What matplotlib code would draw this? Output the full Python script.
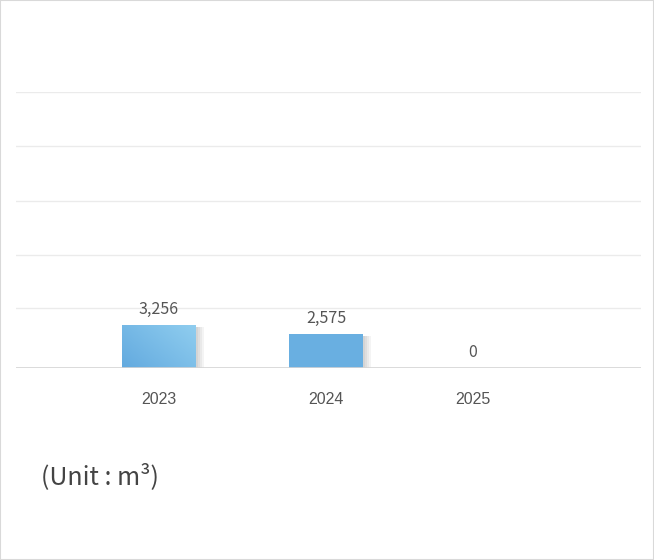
import numpy as np
import matplotlib
matplotlib.use('Agg')
import matplotlib.pyplot as plt
from matplotlib.colors import LinearSegmentedColormap
from matplotlib.patches import Rectangle

years = ['2023', '2024', '2025']
values = [3256, 2575, 0]
value_labels = ['3,256', '2,575', '0']
grid_values = [4600, 8600, 12700, 16900, 21000]

xpos = np.array([0, 1, 1.88])  # label spacing in the original is uneven
bar_w = 0.443
bar_color = '#69afe1'

plt.rcParams['font.family'] = ['Noto Sans CJK KR', 'DejaVu Sans']

fig = plt.figure(figsize=(6.54, 5.6), dpi=100)
fig.patches.append(Rectangle((0, 0), 1, 1, transform=fig.transFigure,
                             fill=False, edgecolor='#d9d9d9', lw=1.5))

ax = fig.add_axes([16/654, 1-368/560, 625/654, 276/560])
ax.set_xlim(-0.856, 2.886)
ax.set_ylim(0, 21000)

for g in grid_values:
    ax.axhline(g, color='#ebebeb', lw=1, zorder=0)
ax.axhline(0, color='#d4d4d4', lw=1.2, zorder=3)

# soft shadow on the right of each bar
for k in range(4):
    ax.bar(xpos + 0.012*(k+1), np.array(values)*0.96, width=bar_w, bottom=0,
           color='#000000', alpha=0.045, lw=0, zorder=1)

bars = ax.bar(xpos, values, width=bar_w, color=bar_color, lw=0, zorder=2)

# light gradient on the first bar
grad = LinearSegmentedColormap.from_list('g', ['#63aadf', '#8fcdef'])
b = bars[0]
x0, y0, w, h = b.get_x(), b.get_y(), b.get_width(), b.get_height()
gx, gy = np.meshgrid(np.linspace(0, 1, 60), np.linspace(0, 1, 30))
im = ax.imshow((gx*0.6 + gy*0.4), extent=[x0, x0+w, y0, y0+h], origin='lower',
               cmap=grad, aspect='auto', zorder=2.5)
im.set_clip_path(b)

for x, v, lab in zip(xpos, values, value_labels):
    ax.annotate(lab, (x, v), xytext=(0, 5), textcoords='offset points',
                ha='center', va='bottom', fontsize=11.5, color='#555555')

ax.set_xticks(xpos)
ax.set_xticklabels(years, fontsize=11.5, color='#555555', family='Liberation Sans')
ax.tick_params(axis='x', length=0, pad=17)
ax.set_yticks([])
for s in ax.spines.values():
    s.set_visible(False)
ax.patch.set_alpha(0)

fig.text(41/654, 1-477/560, '(Unit : m³)', fontsize=18, color='#444444',
         ha='left', va='center')

fig.savefig('out.png', dpi=100)
